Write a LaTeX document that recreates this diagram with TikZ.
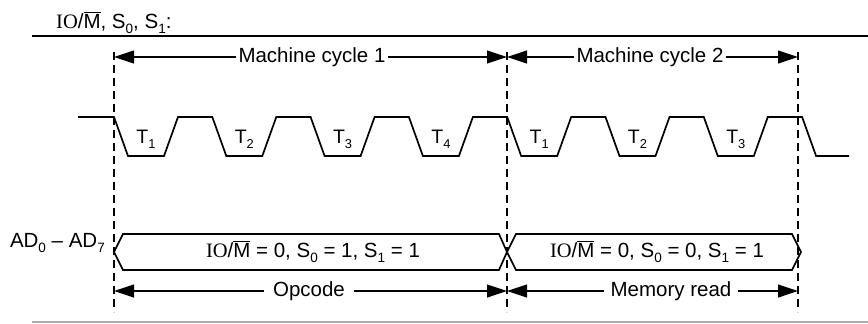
\documentclass[tikz,border=0pt]{standalone}
\usepackage{fontspec}
\usepackage{graphicx}
\setmainfont{Liberation Sans}
\newfontfamily\iofont{Liberation Serif}
\usetikzlibrary{arrows.meta}
\newcommand{\IOM}{{\iofont IO}/$\overline{\mbox{M}}$}
\newcommand{\sub}[1]{\raisebox{-0.28em}{\scalebox{0.66}{#1}}}

\begin{document}
\begin{tikzpicture}[x=1pt, y=-1pt,
  lbl/.style={inner sep=2pt, font=\fontsize{20.5}{24}\selectfont},
  tlab/.style={inner sep=0pt, anchor=base, font=\fontsize{19.5}{22}\selectfont},
  guide/.style={line width=1.4pt, dash pattern=on 8pt off 5pt},
  sig/.style={line width=1.7pt, line join=miter},
  dim/.style={-{Triangle[length=20pt,width=13pt]}, line width=1.2pt},
  rule/.style={line width=2pt}
]
  \useasboundingbox (0,0) rectangle (868,324);

  \node[lbl, anchor=base west] (hdr) at (54,28) {\IOM, S\sub{0}, S\sub{1}:};
  \draw[rule] (32,36) -- (868,36);
  \draw[rule, gray!65] (32,322) -- (868,322);

  \coordinate (g1t) at (114,52);  \coordinate (g1b) at (114,312);
  \coordinate (g2t) at (507,52);  \coordinate (g2b) at (507,312);
  \coordinate (g3t) at (798,52);  \coordinate (g3b) at (798,312);
  \draw[guide] (g1t) -- (g1b);
  \draw[guide] (g2t) -- (g2b);
  \draw[guide] (g3t) -- (g3b);

  \node[lbl] (mc1) at (312,57) {Machine cycle 1};
  \node[lbl] (mc2) at (650,57) {Machine cycle 2};
  \draw[dim] (mc1.west) -- (g1t |- mc1.west);
  \draw[dim] (mc1.east) -- (g2t |- mc1.east);
  \draw[dim] (mc2.west) -- (g2t |- mc2.west);
  \draw[dim] (mc2.east) -- (g3t |- mc2.east);

  \draw[sig] (78,117) -- (114,117)
    \foreach \k in {0,...,6}{ -- ++(14,39) -- ++(36,0) -- ++(14,-39) -- ++(34.3,0) }
    -- ++(14,39) -- ++(33,0);
  \foreach \k/\i in {0/1,1/2,2/3,3/4,4/1,5/2,6/3}
    \node[tlab] (t\k) at ({146+98.3*\k},143) {T\sub{\i}};

  \node[lbl, anchor=east] (ad) at (107,243) {AD\sub{0} -- AD\sub{7}};
  \draw[sig] (114,252) -- (123,234) -- (499,234) -- (507,252) -- (499,270) -- (123,270) -- cycle;
  \draw[sig] (507,252) -- (516,234) -- (792,234) -- (801,252) -- (792,270) -- (516,270) -- cycle;
  \node[lbl] (bus1) at (313,252) {\IOM{} = 0, S\sub{0} = 1, S\sub{1} = 1};
  \node[lbl] (bus2) at (657,252) {\IOM{} = 0, S\sub{0} = 0, S\sub{1} = 1};

  \node[lbl, inner xsep=9pt] (opc) at (309,291) {Opcode};
  \node[lbl, inner xsep=6pt] (mrd) at (671,291) {Memory read};
  \draw[dim] (opc.west) -- (g1b |- opc.west);
  \draw[dim] (opc.east) -- (g2b |- opc.east);
  \draw[dim] (mrd.west) -- (g2b |- mrd.west);
  \draw[dim] (mrd.east) -- (g3b |- mrd.east);
\end{tikzpicture}
\end{document}
